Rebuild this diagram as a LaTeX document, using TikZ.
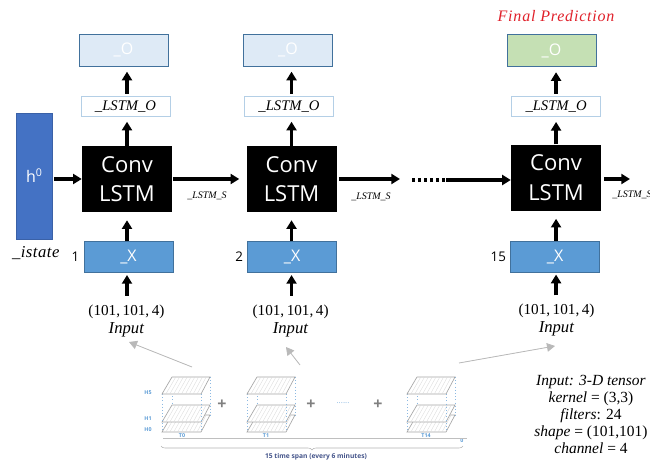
\documentclass[tikz,border=0pt]{standalone}
\usepackage{fontspec}
\setmainfont{Liberation Serif}
\setsansfont{Open Sans}
\usetikzlibrary{arrows.meta,positioning,decorations.pathreplacing}
\definecolor{outfill}{HTML}{DEEAF6}
\definecolor{outline}{HTML}{41719C}
\definecolor{lstmline}{HTML}{B4CFE6}
\definecolor{infill}{HTML}{5B9BD5}
\definecolor{statefill}{HTML}{4472C4}
\definecolor{predfill}{HTML}{C5E0B4}
\definecolor{tinyblue}{HTML}{5B9BD5}
\definecolor{spanblue}{HTML}{44548A}
\definecolor{finalred}{HTML}{E0202A}
\newcommand{\inputlabel}{(101,\,101,\,4)\\{\fontsize{12.5}{13.5}\selectfont\textit{Input}}}
\newcommand{\sliceplane}[1]{%
  \draw[gray!70,fill=white,line width=0.5pt] (162,#1) -- (201,#1) -- (210,#1-17) -- (172,#1-17) -- cycle;
  \foreach \i in {1,...,9}
    \draw[gray!30,line width=0.25pt] (162+3.9*\i,#1) -- (172+3.8*\i,#1-17);
}
\newcommand{\slicestack}[1]{%
  \begin{scope}[xshift=#1*0.75pt]
    \sliceplane{432}
    \sliceplane{422}
    \draw[tinyblue!70,dotted,line width=0.4pt] (172,377) -- (172,404) (210,377) -- (210,416)
      (162,394) -- (162,432) (201,394) -- (201,432);
    \sliceplane{394}
  \end{scope}
}

\begin{document}
\begin{tikzpicture}[
    x=0.75pt,y=-0.75pt,
    convbox/.style={fill=black, text=white, minimum width=67.5pt, minimum height=49.5pt,
                    inner sep=0pt, align=center, font=\sffamily\fontsize{16.5}{22}\selectfont},
    outbox/.style={draw=outline, line width=0.8pt, fill=outfill, text=white, minimum width=66.75pt,
                   minimum height=24pt, inner sep=0pt, font=\sffamily\fontsize{12}{14}\selectfont},
    lstmbox/.style={draw=lstmline, line width=0.8pt, fill=white, minimum width=66.75pt,
                    minimum height=15pt, inner sep=0pt, font=\itshape\fontsize{11}{12}\selectfont},
    inbox/.style={draw=outline, line width=0.6pt, fill=infill, text=white, minimum width=66.75pt,
                  minimum height=23.25pt, inner sep=0pt, font=\sffamily\fontsize{12}{14}\selectfont},
    inlabel/.style={align=center, inner sep=0pt, font=\fontsize{11.4}{13.5}\selectfont},
    numlabel/.style={inner sep=0pt, font=\sffamily\fontsize{10}{12}\selectfont},
    statelabel/.style={inner sep=0pt, font=\itshape\fontsize{7.5}{9}\selectfont},
    tinylabel/.style={inner sep=0pt, text=tinyblue, font=\sffamily\bfseries\fontsize{4}{5}\selectfont},
    plusmark/.style={inner sep=0pt, text=gray, font=\sffamily\bfseries\fontsize{12}{12}\selectfont},
    arrow/.style={-{Triangle[length=6.5pt,width=7.5pt]},line width=2.4pt},
    greyarrow/.style={-{Triangle[length=6pt,width=6.5pt]},draw=gray!55,fill=gray!55,line width=0.6pt},
]
  \useasboundingbox (0,0) rectangle (650,463);

  % Cells
  \node[convbox] (conv1) at (127,179) {Conv\\LSTM};
  \node[convbox,right=55.5pt of conv1] (conv2) {Conv\\LSTM};
  \node[convbox,right=130.5pt of conv2,yshift=1.1pt] (conv3) {Conv\\LSTM};

  % First column
  \node[lstmbox,above=21.75pt of conv1,xshift=-1.1pt] (lstmo1) {\_LSTM\_O};
  \node[outbox,above=21.75pt of lstmo1,xshift=-1.5pt] (out1) {\_O};
  \node[inbox,below=21.75pt of conv1,xshift=1.1pt] (in1) {\_X};
  \node[inlabel,below=23.5pt of in1,xshift=-1.5pt] (inp1) {\inputlabel};
  \node[numlabel,left=3pt of in1] (num1) {1};

  % Second column
  \node[lstmbox,above=21.75pt of conv2,xshift=-1.9pt] (lstmo2) {\_LSTM\_O};
  \node[outbox,above=21.75pt of lstmo2,xshift=-0.75pt] (out2) {\_O};
  \node[inbox,below=21.75pt of conv2,xshift=0.4pt] (in2) {\_X};
  \node[inlabel,below=23.5pt of in2,xshift=-1.1pt] (inp2) {\inputlabel};
  \node[numlabel,left=3pt of in2] (num2) {2};

  % Last column
  \node[lstmbox,above=20.5pt of conv3] (lstmo3) {\_LSTM\_O};
  \node[outbox,above=21.5pt of lstmo3,xshift=-3.4pt,fill=predfill] (out3) {\_O};
  \node[inbox,below=22.5pt of conv3,xshift=-0.75pt] (in3) {\_X};
  \node[inlabel,below=23.5pt of in3,xshift=1.1pt] (inp3) {\inputlabel};
  \node[numlabel,left=3pt of in3] (num3) {15};
  \node[above=9pt of out3,inner sep=0pt,xshift=3.4pt,text=finalred,
        font=\itshape\fontsize{12}{13}\selectfont\addfontfeatures{LetterSpace=5}] (final) {Final Prediction};

  % Initial state
  \node[left=21.75pt of conv1,yshift=2.25pt,minimum width=27pt,minimum height=94.5pt,inner sep=0pt,
        fill=statefill,draw=statefill!85!black,line width=0.5pt,text=white,
        font=\sffamily\fontsize{12}{14}\selectfont] (state) {h\textsuperscript{0}};
  \node[below=5pt of state,xshift=1pt,inner sep=0pt,
        font=\itshape\fontsize{12.5}{13}\selectfont\addfontfeatures{LetterSpace=3}] (istate) {\_istate};

  % State labels
  \node[statelabel] (lbl1) at (207,196) {\_LSTM\_S};
  \node[statelabel] (lbl2) at (371,197) {\_LSTM\_S};
  \node[statelabel,anchor=west] (lbl3) at (612,195) {\_LSTM\_S};

  % Free ends
  \coordinate (dotsa) at (400,180);
  \coordinate (dotsb) at (412,180);
  \coordinate (dotsc) at (446,180);
  \coordinate (outs) at (630,179);

  % Arrows
  \foreach \c in {1,2,3} {
    \draw[arrow,shorten >=3.75pt] (conv\c.north) -- (conv\c.north |- lstmo\c.south);
    \draw[arrow,shorten >=3.75pt,shorten <=1.5pt] (conv\c.north |- lstmo\c.north) -- (conv\c.north |- out\c.south);
    \draw[arrow,shorten >=6pt] (conv\c.south |- in\c.north) -- (conv\c.south);
    \draw[arrow,shorten >=1.5pt,shorten <=6.5pt] (conv\c.south |- inp\c.north) -- (conv\c.south |- in\c.south);
  }
  \draw[arrow] (state.east |- conv1.west) ++(1pt,0) -- (conv1.west);
  \draw[arrow,shorten >=5.25pt,shorten <=0.75pt] (conv1.east) -- (conv2.west);
  \draw[arrow,shorten <=1.5pt] (conv2.east) -- (conv2.east -| dotsa);
  \draw[line width=2.4pt,dash pattern=on 2.4pt off 2.1pt] (dotsb) -- (dotsc);
  \draw[arrow] (dotsc) -- (dotsc -| conv3.west);
  \draw[arrow,shorten <=2.25pt] (conv3.east |- outs) -- (outs);

  % Tensor slices
  \slicestack{0}
  \slicestack{85}
  \slicestack{245}
  \node[tinylabel] (h5) at (148,393) {H5};
  \node[tinylabel] (h1) at (148,419) {H1};
  \node[tinylabel] (h0) at (148,430) {H0};
  \node[tinylabel] (t0) at (182,435.5) {T0};
  \node[tinylabel] (t1) at (266,435.5) {T1};
  \node[tinylabel] (t14) at (426,435.5) {T14};
  \node[tinylabel] (zero) at (462,441) {0};
  \node[plusmark] (plus1) at (222,405) {+};
  \node[plusmark] (plus2) at (311,405) {+};
  \node[plusmark] (plus3) at (378,405) {+};
  \node[inner sep=0pt,text=tinyblue!70,font=\sffamily\fontsize{6}{6}\selectfont] (gap) at (343,403) {......};
  \coordinate (axisa) at (163,438);
  \coordinate (axisb) at (467,438);
  \draw[gray!50,line width=0.6pt] (axisa) -- (axisb);
  \coordinate (bracea) at (161,446);
  \coordinate (braceb) at (463,446);
  \draw[gray!60,line width=0.4pt,decorate,decoration={brace,mirror,amplitude=3pt}] (bracea) -- (braceb);
  \node[inner sep=0pt,text=spanblue,font=\sffamily\bfseries\fontsize{5}{6}\selectfont] (span) at (316,457) {15 time span (every 6 minutes)};

  % Grey arrows
  \coordinate (froma) at (192,367);
  \coordinate (toa) at (129,342);
  \coordinate (fromb) at (300,365);
  \coordinate (tob) at (286,347);
  \coordinate (fromc) at (459,363);
  \coordinate (toc) at (555,346);
  \draw[greyarrow] (froma) -- (toa);
  \draw[greyarrow] (fromb) -- (tob);
  \draw[greyarrow] (fromc) -- (toc);

  % Notes
  \node[align=center,inner sep=0pt,font=\fontsize{11.6}{12.75}\selectfont] (note) at (591,414.5)
    {\textit{Input: 3-D tensor}\\\textit{kernel} = (3,3)\\\textit{filters}: 24\\\textit{shape} = (101,101)\\\textit{channel} = 4};
\end{tikzpicture}
\end{document}
